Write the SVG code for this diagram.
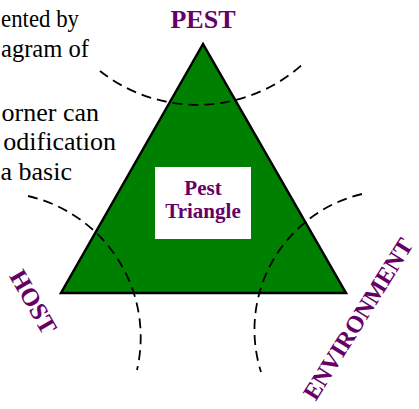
<svg xmlns="http://www.w3.org/2000/svg" width="419" height="409" viewBox="0 0 419 409">
<style>
.lbl{font-family:"Liberation Serif","Times New Roman",serif;font-weight:bold;fill:#660066;text-anchor:middle}
.body{font-family:"Liberation Serif","Times New Roman",serif;font-size:26px;fill:#000}
.arc{fill:none;stroke:#000;stroke-width:1.8;stroke-dasharray:10 6}
</style>
<rect width="419" height="409" fill="#fff"/>
<g id="intro-text">
<text class="body" x="1" y="27" textLength="78" lengthAdjust="spacingAndGlyphs">ented by</text>
<text class="body" x="1" y="57" textLength="88" lengthAdjust="spacingAndGlyphs">agram of</text>
<text class="body" x="99" y="121" text-anchor="end">orner can</text>
<text class="body" x="116" y="150" text-anchor="end">odification</text>
<text class="body" x="72" y="180" text-anchor="end">a basic</text>
</g>
<g id="triangle">
<polygon points="203,44 61,293 346,293" fill="#008000" stroke="#000" stroke-width="2.5" stroke-linejoin="miter"/>
</g>
<g id="center-box">
<rect x="155" y="167" width="96" height="72" fill="#fff"/>
<text class="lbl" x="203" y="195" font-size="21">Pest</text>
<text class="lbl" x="203" y="218" font-size="21">Triangle</text>
</g>
<g id="connectors">
<path class="arc" d="M100,71 A157,157 0 0 0 305,62"/>
<path class="arc" d="M28,196 A145,145 0 0 1 137,370"/>
<path class="arc" d="M362,194 A139.5,139.5 0 0 0 261,372"/>
</g>
<g id="pest">
<text class="lbl" x="203" y="28" font-size="26">PEST</text>
</g>
<g id="host">
<text class="lbl" font-size="25" transform="translate(33,302) rotate(60)" y="8">HOST</text>
</g>
<g id="environment">
<text class="lbl" font-size="24" transform="translate(358,319) rotate(-58)" y="8">ENVIRONMENT</text>
</g>
</svg>
